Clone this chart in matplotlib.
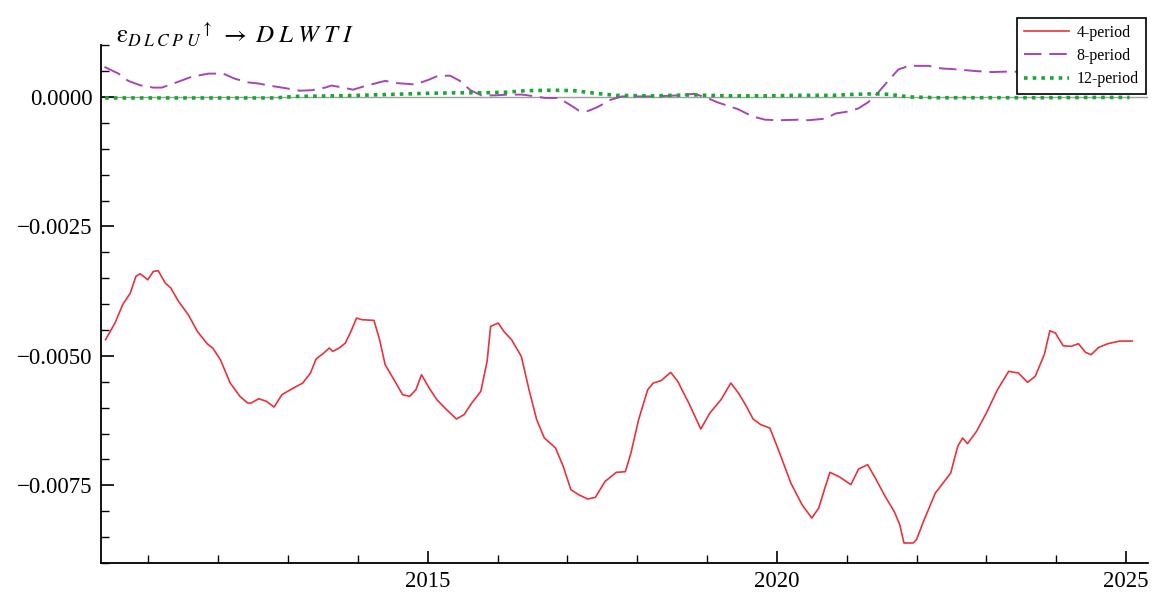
import numpy as np
import matplotlib
matplotlib.use("Agg")
import matplotlib.pyplot as plt
from matplotlib.ticker import MultipleLocator, FixedLocator, FuncFormatter

plt.rcParams['font.family'] = ['Liberation Serif', 'DejaVu Serif']
plt.rcParams['mathtext.fontset'] = 'stix'

# 4-period response
red_x = [2010.385, 2010.52, 2010.63, 2010.74, 2010.82, 2010.88, 2010.99, 2011.07, 2011.14, 2011.24,
         2011.32, 2011.43, 2011.57, 2011.70, 2011.84, 2011.92, 2012.03, 2012.17, 2012.31, 2012.42,
         2012.47, 2012.58, 2012.69, 2012.80, 2012.91, 2013.05, 2013.21, 2013.32, 2013.40, 2013.51,
         2013.59, 2013.64, 2013.73, 2013.82, 2013.90, 2013.98, 2014.06, 2014.23, 2014.31, 2014.39,
         2014.53, 2014.64, 2014.74, 2014.83, 2014.91, 2015.02, 2015.13, 2015.27, 2015.41, 2015.52,
         2015.63, 2015.76, 2015.85, 2015.90, 2016.01, 2016.09, 2016.20, 2016.34, 2016.45, 2016.56,
         2016.67, 2016.83, 2016.94, 2017.05, 2017.16, 2017.29, 2017.40, 2017.54, 2017.70, 2017.83,
         2017.91, 2018.02, 2018.15, 2018.23, 2018.34, 2018.48, 2018.58, 2018.75, 2018.91, 2019.04,
         2019.20, 2019.34, 2019.45, 2019.55, 2019.66, 2019.77, 2019.90, 2020.04, 2020.20, 2020.36,
         2020.50, 2020.60, 2020.68, 2020.76, 2020.90, 2021.06, 2021.17, 2021.30, 2021.41, 2021.55,
         2021.68, 2021.76, 2021.82, 2021.95, 2022.00, 2022.11, 2022.27, 2022.38, 2022.49, 2022.59,
         2022.66, 2022.73, 2022.86, 2023.00, 2023.16, 2023.32, 2023.46, 2023.59, 2023.70, 2023.83,
         2023.91, 2023.99, 2024.10, 2024.21, 2024.32, 2024.42, 2024.50, 2024.61, 2024.74, 2024.91,
         2025.09]
red_y = [-0.004688, -0.004366, -0.004012, -0.003787, -0.003465, -0.003414, -0.003530, -0.003369, -0.003356, -0.003594,
         -0.003690, -0.003948, -0.004205, -0.004527, -0.004765, -0.004849, -0.005074, -0.005524, -0.005782, -0.005911,
         -0.005911, -0.005827, -0.005879, -0.005988, -0.005750, -0.005640, -0.005524, -0.005331, -0.005061, -0.004945,
         -0.004849, -0.004914, -0.004849, -0.004752, -0.004527, -0.004270, -0.004302, -0.004315, -0.004688, -0.005171,
         -0.005492, -0.005750, -0.005782, -0.005653, -0.005364, -0.005621, -0.005846, -0.006039, -0.006219, -0.006135,
         -0.005911, -0.005685, -0.005106, -0.004430, -0.004366, -0.004527, -0.004688, -0.005010, -0.005653, -0.006232,
         -0.006586, -0.006779, -0.007133, -0.007584, -0.007680, -0.007764, -0.007732, -0.007423, -0.007249, -0.007236,
         -0.006876, -0.006232, -0.005653, -0.005524, -0.005479, -0.005318, -0.005492, -0.005943, -0.006413, -0.006104,
         -0.005846, -0.005524, -0.005717, -0.005943, -0.006219, -0.006329, -0.006393, -0.006876, -0.007455, -0.007873,
         -0.008131, -0.007938, -0.007584, -0.007249, -0.007339, -0.007487, -0.007185, -0.007101, -0.007359, -0.007712,
         -0.008002, -0.008259, -0.008613, -0.008613, -0.008549, -0.008163, -0.007648, -0.007455, -0.007262, -0.006747,
         -0.006586, -0.006695, -0.006457, -0.006104, -0.005653, -0.005299, -0.005331, -0.005511, -0.005395, -0.004977,
         -0.004514, -0.004560, -0.004804, -0.004817, -0.004765, -0.004932, -0.004977, -0.004836, -0.004765, -0.004714,
         -0.004714]

# 8-period response
purple_x = [2010.37, 2010.57, 2010.71, 2010.88, 2011.07, 2011.19, 2011.38, 2011.62, 2011.86, 2012.07,
            2012.24, 2012.43, 2012.57, 2012.77, 2012.96, 2013.17, 2013.34, 2013.53, 2013.62, 2013.79,
            2013.93, 2014.10, 2014.39, 2014.53, 2014.82, 2015.01, 2015.15, 2015.32, 2015.46, 2015.61,
            2015.77, 2015.96, 2016.15, 2016.35, 2016.49, 2016.68, 2016.87, 2017.01, 2017.16, 2017.30,
            2017.44, 2017.61, 2017.78, 2018.02, 2018.26, 2018.59, 2018.81, 2018.97, 2019.14, 2019.45,
            2019.64, 2019.83, 2020.02, 2020.31, 2020.45, 2020.69, 2020.84, 2021.03, 2021.17, 2021.31,
            2021.46, 2021.60, 2021.74, 2021.89, 2022.17, 2022.36, 2022.60, 2022.84, 2023.08, 2023.32,
            2023.58]
purple_y = [0.00058, 0.00045, 0.00031, 0.000225, 0.00018, 0.00018, 0.00027, 0.00039, 0.00045, 0.00045,
            0.00035, 0.00028, 0.00026, 0.00021, 0.00017, 0.00012, 0.00013, 0.00018, 0.00022, 0.00018,
            0.00014, 0.00021, 0.00031, 0.00027, 0.00024, 0.00033, 0.00041, 0.00041, 0.00031, 0.00013,
            0.00003, 0.00003, 0.000045, 0.000045, 0.00002, -0.00002, -0.00002, -0.00013, -0.00026, -0.00027,
            -0.00019, -0.00006, 0.00001, 0.00001, 0.00001, 0.00003, 0.00006, 0.0, -0.0001, -0.00024,
            -0.00037, -0.00044, -0.00045, -0.00044, -0.00045, -0.00042, -0.00032, -0.00028, -0.00022, -0.0001,
            0.0001, 0.00032, 0.00053, 0.0006, 0.0006, 0.00055, 0.00053, 0.0005, 0.00048, 0.00049,
            0.00048]

# 12-period response
green_x = [2010.38, 2011.0, 2012.0, 2012.8, 2013.1, 2013.6, 2014.0, 2014.5, 2015.0, 2015.4,
           2015.8, 2016.1, 2016.4, 2016.8, 2017.1, 2017.4, 2017.7, 2018.2, 2018.8, 2019.3,
           2019.8, 2020.3, 2020.8, 2021.1, 2021.4, 2021.6, 2021.9, 2022.3, 2023.0, 2023.8,
           2024.5, 2025.05]
green_y = [-0.00002, -0.00002, -0.00002, -0.00002, 0.00001, 0.00002, 0.00003, 0.00005, 0.00007, 0.00008,
           0.00008, 0.00009, 0.00012, 0.00013, 0.00012, 0.00007, 0.00003, 0.00002, 0.00004, 0.00002,
           0.00002, 0.00003, 0.00003, 0.00005, 0.00006, 0.00005, 0.0, -0.000015, -0.000015, -0.000015,
           -0.00001, -0.00001]

labels = ["4-period", "8-period", "12-period"]
year_ticks = [2015, 2020, 2025]
y_ticks = [-0.0075, -0.0050, -0.0025, 0.0]

fig = plt.figure(figsize=(11.69, 6.10), dpi=100)
ax = fig.add_axes([0.0861, 0.077, 0.8962, 0.849])

ax.axhline(0, color="#a0a0a0", lw=1.0, zorder=1)
ax.plot(red_x, red_y, color="#e8323c", lw=1.2, label=labels[0], zorder=3)
ax.plot(purple_x, purple_y, color="#a447b0", lw=1.4, dashes=(9, 4), label=labels[1], zorder=3)
ax.plot(green_x, green_y, color="#17a834", lw=2.6, linestyle=(0, (1, 1.4)), label=labels[2], zorder=4)

ax.set_xlim(2010.315, 2025.32)
ax.set_ylim(-0.009, 0.001)

ax.spines['top'].set_visible(False)
ax.spines['right'].set_visible(False)
ax.spines['left'].set_linewidth(1.3)
ax.spines['bottom'].set_linewidth(1.3)

ax.xaxis.set_major_locator(FixedLocator(year_ticks))
ax.xaxis.set_minor_locator(MultipleLocator(1))
ax.yaxis.set_major_locator(FixedLocator(y_ticks))
ax.yaxis.set_minor_locator(MultipleLocator(0.0005))
ax.yaxis.set_major_formatter(FuncFormatter(lambda v, p: f"{v:.4f}".replace("-", "\u2212")))
ax.xaxis.set_major_formatter(FuncFormatter(lambda v, p: f"{int(round(v))}"))

ax.tick_params(which='major', direction='in', length=9, width=1.2, labelsize=16.5, pad=6)
ax.tick_params(which='minor', direction='in', length=5.5, width=1.0)

fig.text(0.099, 0.93,
         r'$\mathrm{\varepsilon}_{D\;L\;C\;P\;U}{}^{\uparrow}\;\rightarrow\; D\;L\;W\;T\;I$',
         fontsize=18, va='baseline', ha='left')

leg = ax.legend(loc='upper right', bbox_to_anchor=(0.980, 0.971), bbox_transform=fig.transFigure,
                borderaxespad=0, fancybox=False, edgecolor='black', framealpha=1, fontsize=11.5,
                handlelength=2.8, labelspacing=0.45, borderpad=0.45, handletextpad=0.45)
leg.get_frame().set_linewidth(1.2)

fig.savefig("out.png", dpi=100)
